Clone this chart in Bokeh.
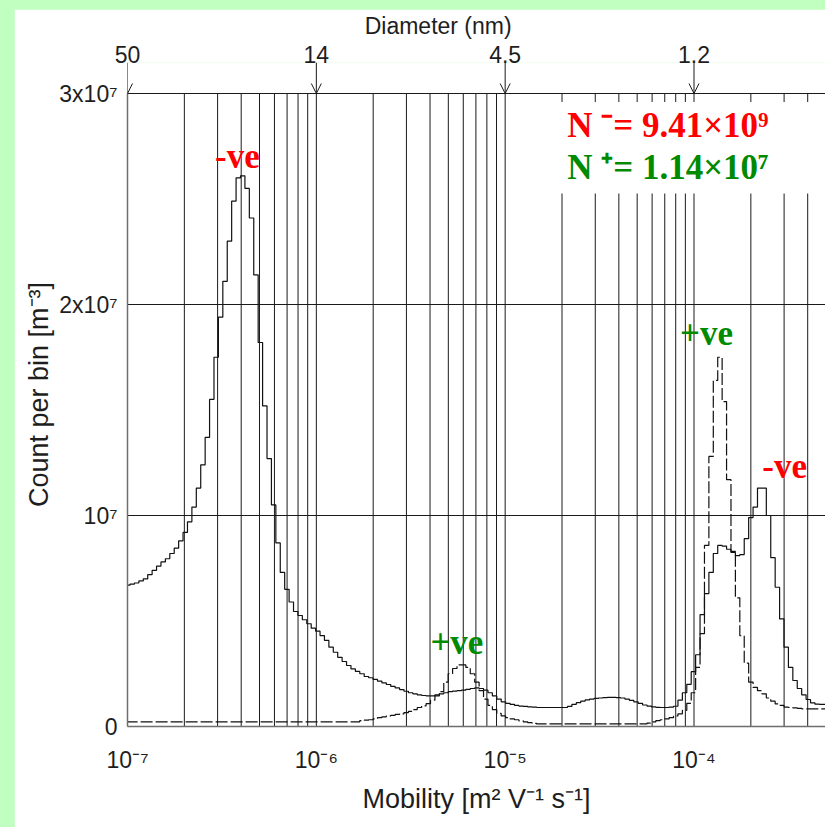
import numpy as np
from bokeh.plotting import figure
from bokeh.models import (Range1d, LogAxis, FixedTicker, Label, Arrow, OpenHead,
                          BoxAnnotation, GlobalInlineStyleSheet)
from bokeh.embed import file_html
from bokeh.resources import INLINE

# ---------------- data ----------------
# log-spaced mobility bins (decades)
LOG_EDGE0 = -7.01
BIN_DEC = 0.0234

# counts per bin, in units of 1e6 m^-3
neg_counts_1e6 = [
    6.7, 6.75, 6.8, 6.9, 7.0, 7.2, 7.4, 7.6, 7.8, 7.95,
    8.2, 8.45, 8.8, 9.2, 9.7, 10.4, 11.3, 12.4, 13.7, 15.5,
    17.5, 19.4, 21.1, 23.0, 24.9, 26.0, 26.1, 25.5, 24.1, 21.4,
    18.2, 15.2, 12.7, 10.5, 8.7, 7.3, 6.5, 5.9, 5.45, 5.26,
    5.06, 4.87, 4.66, 4.52, 4.31, 4.08, 3.76, 3.52, 3.28, 3.08,
    2.89, 2.73, 2.61, 2.5, 2.37, 2.31, 2.23, 2.15, 2.07, 1.99,
    1.9, 1.83, 1.75, 1.67, 1.6, 1.55, 1.5, 1.47, 1.45, 1.45,
    1.5, 1.55, 1.6, 1.65, 1.68, 1.7, 1.72, 1.76, 1.8, 1.83,
    1.8, 1.72, 1.6, 1.45, 1.3, 1.17, 1.1, 1.05, 1.0, 0.97,
    0.95, 0.93, 0.92, 0.9, 0.9, 0.9, 0.9, 0.9, 0.9, 0.9,
    0.95, 1.05, 1.13, 1.2, 1.26, 1.3, 1.33, 1.35, 1.37, 1.38,
    1.38, 1.37, 1.35, 1.3, 1.24, 1.17, 1.1, 1.02, 0.97, 0.93,
    0.91, 0.9, 0.9, 0.92, 0.96, 1.25, 1.6, 2.0, 2.6, 3.4,
    5.3, 6.3, 7.3, 8.2, 8.58, 8.55, 8.4, 8.25, 8.1, 8.15,
    8.9, 9.9, 10.4, 11.3, 11.3, 10.0, 8.0, 6.6, 5.1, 3.76,
    2.8, 2.18, 1.8, 1.5, 1.28, 1.12, 1.06, 1.05, 1.05,
]
pos_counts_1e6 = [
    0.22, 0.22, 0.22, 0.22, 0.22, 0.22, 0.22, 0.22, 0.22, 0.22,
    0.22, 0.22, 0.22, 0.22, 0.22, 0.22, 0.22, 0.22, 0.22, 0.22,
    0.22, 0.22, 0.22, 0.22, 0.22, 0.22, 0.22, 0.22, 0.22, 0.22,
    0.22, 0.22, 0.22, 0.22, 0.22, 0.22, 0.22, 0.22, 0.22, 0.22,
    0.22, 0.22, 0.22, 0.22, 0.22, 0.22, 0.22, 0.22, 0.22, 0.22,
    0.22, 0.22, 0.22, 0.28, 0.3, 0.32, 0.36, 0.42, 0.46, 0.5,
    0.53, 0.57, 0.6, 0.66, 0.72, 0.8, 0.9, 0.98, 1.08, 1.25,
    1.45, 1.65, 2.1, 2.5, 2.75, 2.92, 2.92, 2.8, 2.5, 2.1,
    1.7, 1.3, 1.0, 0.8, 0.62, 0.5, 0.42, 0.36, 0.32, 0.27,
    0.22, 0.18, 0.15, 0.12, 0.12, 0.12, 0.12, 0.12, 0.12, 0.12,
    0.12, 0.12, 0.12, 0.12, 0.12, 0.12, 0.12, 0.12, 0.12, 0.12,
    0.12, 0.12, 0.12, 0.12, 0.12, 0.12, 0.12, 0.12, 0.16, 0.22,
    0.28, 0.32, 0.36, 0.42, 0.5, 0.6, 0.76, 1.1, 1.6, 2.8,
    4.4, 8.58, 12.8, 16.4, 17.5, 15.4, 11.7, 8.3, 6.1, 4.3,
    3.0, 2.1, 1.85, 1.7, 1.55, 1.35, 1.2, 1.07, 1.0, 0.92,
    0.9, 0.88, 0.86, 0.84, 0.84, 0.84, 0.84, 0.84, 0.84,
]

mobility_ticks = [1e-7, 1e-6, 1e-5, 1e-4]
mobility_labels = ["10\u207b\u2077", "10\u207b\u2076", "10\u207b\u2075", "10\u207b\u2074"]
diameter_labels = ["50", "14", "4.5", "1.2"]
count_ticks = [0, 10000000, 20000000, 30000000]
count_labels = ["0", "10\u2077", "2x10\u2077", "3x10\u2077"]

N_NEG_TEXT = "N \u207b= 9.41\u00d710\u2079"
N_POS_TEXT = "N \u207a= 1.14\u00d710\u2077"

# ---------------- layout constants ----------------
X_MIN, X_MAX = 1e-7, 4.97e-4
Y_MAX = 3e7                       # top of the histogram area
W, H = 811, 818
B_LEFT, B_TOP, B_BOTTOM = 113, 53, 101
FRAME_H = H - B_TOP - B_BOTTOM    # includes the arrow strip above Y_MAX
ARROW_PX = 31
Y_TOP = Y_MAX * FRAME_H / (FRAME_H - ARROW_PX)

SANS = "Liberation Sans"
SERIF = "Liberation Serif"
RED = "#ff0000"
GREEN = "#008a00"
GRID = "#1a1a1a"
TXT = "#1e1e1e"

grid_x = [m * 10.0 ** e for e in range(-7, -2) for m in range(1, 10)]
grid_x = [g for g in grid_x if X_MIN <= g < X_MAX]

p = figure(width=W, height=H, x_axis_type="log",
           x_range=Range1d(X_MIN, X_MAX), y_range=Range1d(0, Y_TOP),
           output_backend="svg", toolbar_location=None,
           min_border_left=B_LEFT, min_border_right=0,
           min_border_top=B_TOP, min_border_bottom=B_BOTTOM,
           background_fill_color="white", border_fill_color="white",
           outline_line_color=None)
p.margin = (9, 0, 0, 14)
p.stylesheets = [GlobalInlineStyleSheet(
    css="html, body {margin:0; padding:0; background:#c0ffc0; overflow:hidden;}")]

# bottom axis (mobility)
xa = p.xaxis[0]
xa.ticker = FixedTicker(ticks=mobility_ticks)
xa.major_label_overrides = dict(zip(mobility_ticks, mobility_labels))
xa.axis_label = "Mobility [m\u00b2 V\u207b\u00b9 s\u207b\u00b9]"
xa.axis_label_text_font = SANS
xa.axis_label_text_font_style = "normal"
xa.axis_label_text_font_size = "27px"
xa.axis_label_text_color = TXT
xa.major_label_text_font = SANS
xa.major_label_text_font_size = "23px"
xa.major_label_text_color = TXT
xa.major_tick_out = 0
xa.major_tick_in = 0
xa.minor_tick_out = 0
xa.minor_tick_in = 0
xa.axis_line_color = "#6e6e6e"
xa.axis_line_width = 1.5
xa.major_label_standoff = 20
xa.axis_label_standoff = 8

# left axis (count)
ya = p.yaxis[0]
ya.ticker = FixedTicker(ticks=count_ticks)
ya.bounds = (0, Y_MAX)
ya.major_label_overrides = dict(zip(count_ticks, count_labels))
ya.axis_label = "Count per bin [m\u207b\u00b3]"
ya.axis_label_text_font = SANS
ya.axis_label_text_font_style = "normal"
ya.axis_label_text_font_size = "27px"
ya.axis_label_text_color = TXT
ya.major_label_text_font = SANS
ya.major_label_text_font_size = "23px"
ya.major_label_text_color = TXT
ya.major_tick_out = 0
ya.major_tick_in = 0
ya.minor_tick_out = 0
ya.minor_tick_in = 0
ya.axis_line_color = "#6e6e6e"
ya.axis_line_width = 1.5
ya.major_label_standoff = 10
ya.axis_label_standoff = 2

# top axis (diameter labels); the caption sits left of centre in the original,
# trailing no-break spaces shift its centre to the left
top = LogAxis(ticker=FixedTicker(ticks=mobility_ticks),
              major_label_overrides=dict(zip(mobility_ticks, diameter_labels)),
              major_label_text_font=SANS, major_label_text_font_size="23px",
              major_label_text_color=TXT,
              axis_label="Diameter (nm)" + "\u00a0" * 12,
              axis_label_text_font=SANS, axis_label_text_font_style="normal",
              axis_label_text_font_size="23px", axis_label_text_color=TXT,
              axis_label_standoff=4,
              major_tick_out=0, major_tick_in=0, minor_tick_out=0, minor_tick_in=0,
              axis_line_color=None, major_label_standoff=0)
p.add_layout(top, "above")

# grids: vertical lines only up to Y_MAX, horizontal through the ygrid
p.xgrid.visible = False
p.segment(x0=grid_x, y0=0, x1=grid_x, y1=Y_MAX, line_color=GRID, line_width=1)
p.ygrid.ticker = FixedTicker(ticks=count_ticks)
p.ygrid.grid_line_color = GRID

# histograms
n_bins = len(neg_counts_1e6)
edges = 10.0 ** (LOG_EDGE0 + BIN_DEC * np.arange(n_bins + 1))
neg = np.array(neg_counts_1e6) * 1e6
pos = np.array(pos_counts_1e6) * 1e6
p.step(edges, np.append(neg, neg[-1]), mode="after", line_color="#111111", line_width=1.2)
p.step(edges, np.append(pos, pos[-1]), mode="after", line_color="#111111", line_width=1.2,
       line_dash="12 3")

# diameter arrows
for xt in mobility_ticks:
    p.add_layout(Arrow(x_start=xt, x_end=xt, y_start=Y_TOP, y_end=Y_MAX,
                       line_color=GRID, line_width=1,
                       end=OpenHead(size=10, line_color=GRID, line_width=1)))

# white box behind totals
p.add_layout(BoxAnnotation(left=1.667e-5, right=4.48e-4, bottom=25.26e6, top=29.6e6,
                           fill_color="white", fill_alpha=1.0, line_color=None))


def tag(x, y, text, color, align="center"):
    p.add_layout(Label(x=x, y=y, text=text, text_align=align, text_baseline="alphabetic",
                       text_font=SERIF, text_font_style="bold", text_font_size="35px",
                       text_color=color))


tag(3.82e-7, 27.0e6, "-ve", RED)
tag(5.55e-6, 3.99e6, "+ve", GREEN)
tag(1.164e-4, 18.64e6, "+ve", GREEN)
tag(3.02e-4, 12.32e6, "-ve", RED)
tag(2.13e-5, 28.5e6, N_NEG_TEXT, RED, align="left")
tag(2.13e-5, 26.47e6, N_POS_TEXT, GREEN, align="left")

open("out.html", "w").write(file_html(p, INLINE))
